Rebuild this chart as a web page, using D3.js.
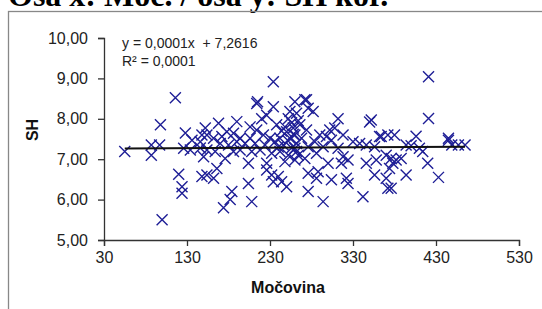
<!DOCTYPE html>
<html>
<head>
<meta charset="utf-8">
<script src="https://cdn.jsdelivr.net/npm/d3@7"></script>
<style>
  body { margin: 0; background: #fff; }
  svg { display: block; }
  .tick text { font-family: "Liberation Sans", Arial, sans-serif; font-size: 16px; fill: #222; }
  .axis path, .axis line { stroke: #333; stroke-width: 1.3; }
</style>
</head>
<body>
<svg width="542" height="309"></svg>
<script>
// data (Močovina vs SH)
const mocovina = [
  55, 87, 87, 97, 98, 100, 116, 120, 124, 124, 126, 128, 134, 136, 146, 148, 148,
  234, 214, 234, 260, 262, 252, 226, 220, 190, 168, 152, 238, 206, 214, 178, 186,
  250, 258, 154, 162, 172, 194, 206, 222, 230, 242, 254, 146, 170, 180, 190, 200,
  212, 224, 236, 246, 262, 154, 164, 186, 194, 208, 218, 232, 242, 252, 262, 150,
  176, 226, 204, 248, 260, 166, 154, 162, 226, 232, 240, 234, 244, 250, 204, 184,
  182, 174, 208,
  274, 276, 282, 266, 312, 352, 350, 274, 302, 308, 260, 268, 290, 298, 318, 362,
  372, 284, 304, 330, 338, 346, 260, 276, 294, 312, 356, 264, 272, 286, 318, 324,
  316, 300, 346, 358, 370, 378, 276, 288, 286, 304, 322, 324, 356, 370, 372, 276,
  294, 342,
  421, 421, 380, 406, 394, 400, 410, 414, 445, 449, 465, 376, 382, 388, 374, 420,
  394, 433, 376, 364, 445, 457,
  256, 248, 258, 244, 264, 252, 240, 256, 215, 272, 254
];
const sh = [
  7.19, 7.35, 7.10, 7.35, 7.85, 5.50, 8.52, 6.63, 6.32, 6.16, 7.27, 7.65, 7.23, 7.47, 7.28, 7.60, 6.57,
  8.92, 8.38, 8.30, 8.42, 8.14, 8.00, 8.09, 8.00, 7.93, 7.89, 7.77, 7.85, 7.80, 7.72, 7.68, 7.64,
  7.68, 7.77, 7.60, 7.52, 7.56, 7.52, 7.52, 7.60, 7.52, 7.52, 7.52, 7.43, 7.39, 7.35, 7.43, 7.39,
  7.39, 7.35, 7.43, 7.35, 7.39, 7.23, 7.19, 7.19, 7.23, 7.19, 7.23, 7.15, 7.19, 7.10, 7.19, 7.06,
  7.02, 6.90, 6.90, 6.94, 6.98, 6.77, 6.61, 6.53, 6.73, 6.61, 6.57, 6.44, 6.44, 6.32, 6.40, 6.20,
  6.00, 5.80, 5.95,
  8.47, 8.26, 8.18, 7.85, 8.00, 7.97, 7.92, 7.72, 7.72, 7.77, 7.60, 7.52, 7.60, 7.56, 7.60, 7.56,
  7.60, 7.43, 7.47, 7.43, 7.39, 7.35, 7.27, 7.31, 7.31, 7.27, 7.31, 7.10, 7.02, 7.15, 7.06, 6.98,
  6.90, 6.90, 6.90, 6.98, 7.10, 6.90, 6.65, 6.69, 6.53, 6.49, 6.53, 6.40, 6.61, 6.53, 6.28, 6.20,
  5.95, 6.07,
  9.04, 8.01, 7.60, 7.57, 7.35, 7.33, 7.27, 7.19, 7.47, 7.35, 7.35, 7.02, 6.98, 7.02, 6.77, 6.90,
  6.61, 6.55, 6.28, 7.56, 7.52, 7.35,
  7.90, 7.80, 7.62, 7.70, 7.95, 7.45, 7.30, 7.28, 8.42, 8.47, 8.18
];
const xTicks = [30, 130, 230, 330, 430, 530];
const yTicks = [5, 6, 7, 8, 9, 10];
// trendline from the equation shown on the chart
const slope = 0.0001;
const intercept = 7.2616;

const svg = d3.select("svg");
const font = '"Liberation Sans", Arial, sans-serif';

// title (clipped at the top in the original)
svg.append("text")
  .attr("x", 8)
  .attr("y", 6)
  .attr("font-family", '"Liberation Serif", "Times New Roman", serif')
  .attr("font-weight", "bold")
  .attr("font-size", 32)
  .attr("fill", "#000")
  .text("Osa x: Moč. / osa y: SH kor.");

// outer frame
svg.append("rect")
  .attr("x", 8.5)
  .attr("y", 11.5)
  .attr("width", 560)
  .attr("height", 320)
  .attr("fill", "none")
  .attr("stroke", "#888")
  .attr("stroke-width", 1.3);

const xScale = d3.scaleLinear().domain([30, 530]).range([104, 519]);
const yScale = d3.scaleLinear().domain([5, 10]).range([240, 38]);

const locale = d3.formatLocale({ decimal: ",", thousands: ".", grouping: [3], currency: ["", ""] });
const fmt = locale.format(".2f");

svg.append("g")
  .attr("class", "axis")
  .attr("transform", "translate(104,0)")
  .call(d3.axisLeft(yScale).tickValues(yTicks).tickFormat(fmt).tickSize(6).tickPadding(10));

svg.append("g")
  .attr("class", "axis")
  .attr("transform", "translate(0,240)")
  .call(d3.axisBottom(xScale).tickValues(xTicks).tickFormat(d3.format("d")).tickSize(6).tickPadding(6));

// markers
const points = mocovina.map((m, i) => ({ x: m, y: sh[i] }));
const r = 5.5;
svg.append("g")
  .selectAll("path")
  .data(points)
  .enter()
  .append("path")
  .attr("transform", d => `translate(${xScale(d.x)},${yScale(d.y)})`)
  .attr("d", `M${-r},${-r}L${r},${r}M${-r},${r}L${r},${-r}`)
  .attr("stroke", "#1e1e96")
  .attr("stroke-width", 1.4)
  .attr("fill", "none");

// linear trendline
const ext = d3.extent(mocovina);
svg.append("line")
  .attr("x1", xScale(ext[0]))
  .attr("x2", xScale(ext[1]))
  .attr("y1", yScale(slope * ext[0] + intercept))
  .attr("y2", yScale(slope * ext[1] + intercept))
  .attr("stroke", "#111")
  .attr("stroke-width", 2);

// equation
svg.append("text")
  .attr("x", 122)
  .attr("y", 48)
  .attr("font-family", font)
  .attr("font-size", 14)
  .attr("fill", "#222")
  .attr("xml:space", "preserve")
  .text("y = 0,0001x  + 7,2616");

svg.append("text")
  .attr("x", 122)
  .attr("y", 66)
  .attr("font-family", font)
  .attr("font-size", 14)
  .attr("fill", "#222")
  .text("R² = 0,0001");

// axis titles
svg.append("text")
  .attr("x", 288)
  .attr("y", 293)
  .attr("text-anchor", "middle")
  .attr("font-family", font)
  .attr("font-weight", "bold")
  .attr("font-size", 16)
  .attr("fill", "#111")
  .text("Močovina");

svg.append("text")
  .attr("transform", "translate(38,130) rotate(-90)")
  .attr("text-anchor", "middle")
  .attr("font-family", font)
  .attr("font-weight", "bold")
  .attr("font-size", 16)
  .attr("fill", "#111")
  .text("SH");
</script>
</body>
</html>
